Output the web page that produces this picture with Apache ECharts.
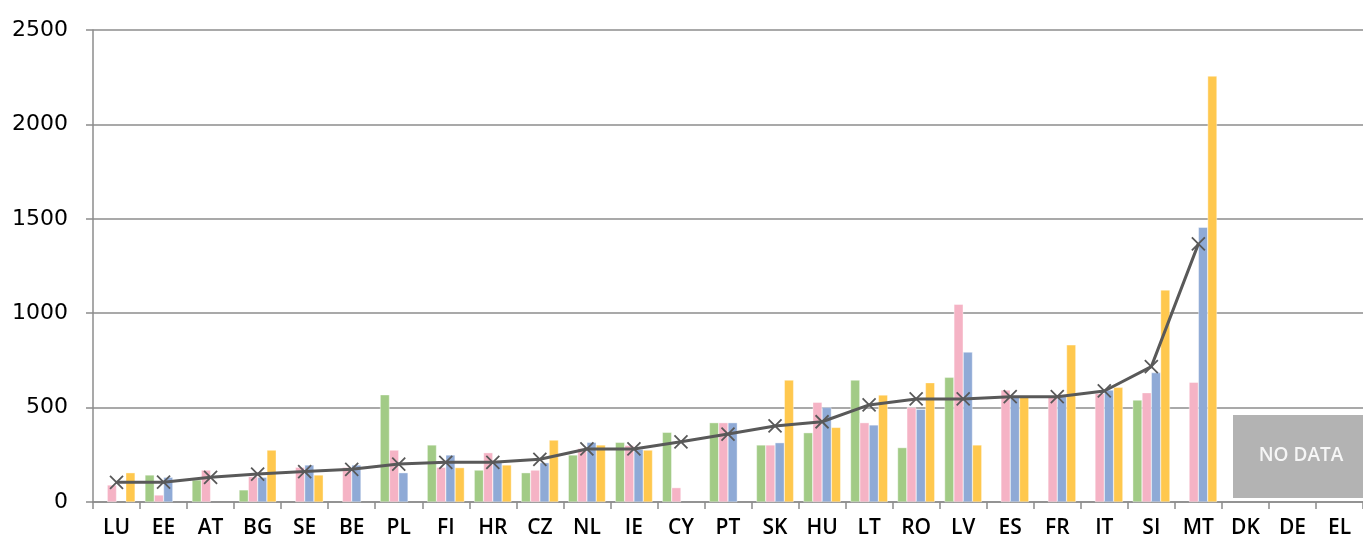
<!DOCTYPE html>
<html>
<head>
<meta charset="utf-8">
<script src="https://cdn.jsdelivr.net/npm/echarts@6/dist/echarts.min.js"></script>
<style>
  html, body { margin: 0; padding: 0; background: #fff; }
  #main { width: 1363px; height: 542px; }
</style>
</head>
<body>
<div id="main"></div>
<script>
var countries = ["LU", "EE", "AT", "BG", "SE", "BE", "PL", "FI", "HR", "CZ", "NL", "IE", "CY", "PT",
  "SK", "HU", "LT", "RO", "LV", "ES", "FR", "IT", "SI", "MT", "DK", "DE", "EL"];

var greenValues = [null, 143, 117, 64, null, null, 568, 302, 169, 155, 249, 316, 369, 420,
  302, 367, 646, 288, 660, null, null, null, 540, null, null, null, null];
var pinkValues = [90, 37, 169, 135, 184, 184, 275, 184, 261, 169, 284, 300, 76, 420,
  302, 528, 420, 501, 1047, 593, 558, 575, 579, 634, null, null, null];
var blueValues = [null, 131, null, 131, 196, 196, 155, 249, 214, 208, 316, 279, null, 420,
  314, 501, 408, 491, 794, 558, 558, 593, 685, 1455, null, null, null];
var yellowValues = [155, null, null, 275, 143, null, null, 182, 196, 328, 302, 275, null, null,
  646, 395, 567, 632, 302, 558, 832, 607, 1123, 2256, null, null, null];
var lineValues = [104, 105, 131, 148, 161, 173, 201, 210, 210, 226, 281, 281, 319, 360,
  403, 425, 514, 546, 546, 558, 558, 588, 717, 1367, null, null, null];

var yTicks = [0, 500, 1000, 1500, 2000, 2500];

function handleDom() {
  var chartDom = document.getElementById("main");
  var myChart = echarts.init(chartDom);
  var option;

  var font = "DejaVu Sans";
  var gridColor = "#8c8c8c";

  function barSeries(name, data, color) {
    return {
      name: name,
      type: "bar",
      data: data,
      barGap: "0%",
      barCategoryGap: "21%",
      itemStyle: { color: color, borderColor: "#fff", borderWidth: 0.4 },
      emphasis: { disabled: true },
    };
  }

  option = {
    animation: false,
    textStyle: { fontFamily: font },
    grid: { left: 93, right: 0, top: 30, bottom: 40, containLabel: false },
    xAxis: {
      type: "category",
      data: countries,
      boundaryGap: true,
      axisLine: { lineStyle: { color: gridColor, width: 1.5 } },
      axisTick: { show: true, length: 7, lineStyle: { color: gridColor, width: 1.5 } },
      axisLabel: {
        color: "#000", fontSize: 21, fontWeight: 600, margin: 16, interval: 0,
        fontFamily: "Open Sans",
      },
    },
    yAxis: {
      type: "value",
      min: yTicks[0],
      max: yTicks[yTicks.length - 1],
      interval: 500,
      axisLine: { show: true, lineStyle: { color: gridColor, width: 1.5 } },
      axisTick: { show: true, length: 7, lineStyle: { color: gridColor, width: 1.5 } },
      axisLabel: {
        color: "#000", fontSize: 22, margin: 25, fontFamily: font,
        formatter: function (v) { return String(v); },
      },
      splitLine: { lineStyle: { color: gridColor, width: 1.5 } },
    },
    series: [
      barSeries("Series 1", greenValues, "#a2cb86"),
      barSeries("Series 2", pinkValues, "#f5b3c5"),
      barSeries("Series 3", blueValues, "#8faad6"),
      barSeries("Series 4", yellowValues, "#ffc84e"),
      {
        name: "Series 5",
        type: "line",
        data: lineValues,
        smooth: false,
        symbol: "path://M0,0L10,10M10,0L0,10",
        symbolSize: 13,
        showSymbol: true,
        lineStyle: { color: "#595959", width: 3 },
        itemStyle: { color: "rgba(0,0,0,0)", borderColor: "#595959", borderWidth: 1.8 },
        emphasis: { disabled: true },
        z: 5,
      },
    ],
    graphic: [
      {
        type: "group",
        left: 1233,
        top: 415,
        children: [
          {
            type: "rect",
            shape: { x: 0, y: 0, width: 130, height: 83 },
            style: { fill: "#b3b3b3" },
          },
          {
            type: "text",
            x: 68,
            y: 41,
            style: {
              text: "NO DATA",
              fill: "#f6f6f6",
              font: "600 19px 'Open Sans'",
              align: "center",
              verticalAlign: "middle",
            },
          },
        ],
      },
    ],
  };
  myChart.setOption(option);
}
handleDom();
</script>
</body>
</html>
